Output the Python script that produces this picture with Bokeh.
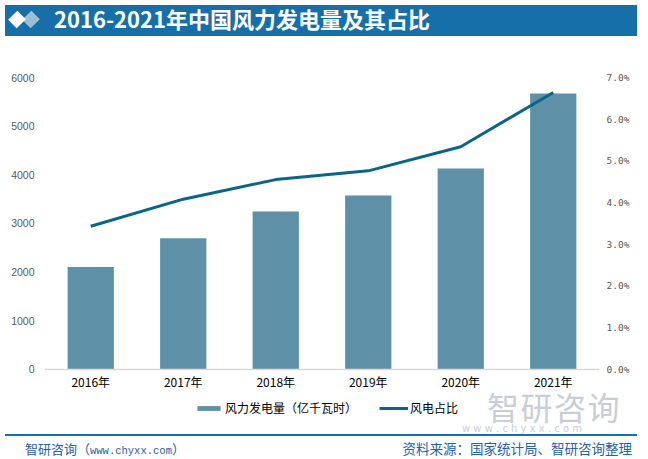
from bokeh.plotting import figure
from bokeh.models import (Range1d, LinearAxis, FixedTicker, PrintfTickFormatter,
                          Legend, LegendItem, ColumnDataSource, Div)
from bokeh.layouts import column
from bokeh.embed import file_html
from bokeh.resources import INLINE

# ---- data ----
years = ["2016年", "2017年", "2018年", "2019年", "2020年", "2021年"]
wind_power = [2100, 2695, 3245, 3575, 4130, 5670]      # 亿千瓦时
wind_share = [3.43, 4.08, 4.55, 4.76, 5.34, 6.64]      # %
left_ticks = [0, 1000, 2000, 3000, 4000, 5000, 6000]
right_ticks = [0, 1, 2, 3, 4, 5, 6, 7]
left_max, right_max = 6000, 7

title_text = "2016-2021年中国风力发电量及其占比"
bar_label = "风力发电量（亿千瓦时）"
line_label = "风电占比"
footer_left_cjk = "智研咨询"
footer_left_url = "www.chyxx.com"
footer_right = "资料来源：国家统计局、智研咨询整理"
watermark = "智研咨询"
watermark_url = "w w w . c h y x x . c o m"

# ---- layout constants (pixels) ----
W = 632
TITLE_H = 31
FIG_H = 380
FOOT_H = 32
FRAME_TOP = 36          # inside the figure canvas
ZERO_Y = 327.7          # where value 0 sits in the figure canvas
CJK = "Noto Sans CJK SC"

# the frame reaches down to the bottom of the figure so the legend row fits inside it
below = (FIG_H - ZERO_Y) / (ZERO_Y - FRAME_TOP)
y_left = Range1d(-below * left_max, left_max)
y_right = Range1d(-below * right_max, right_max)

# ---- title bar ----
title_html = f"""
<div style="position:relative;width:{W}px;height:{TITLE_H}px;background:#166fa8;overflow:hidden;">
  <div style="position:absolute;left:20px;top:8px;width:12px;height:13px;background:#9dbfd6;transform:rotate(45deg);"></div>
  <div style="position:absolute;left:5.5px;top:8px;width:12px;height:13px;background:#ffffff;transform:rotate(45deg);"></div>
  <div style="position:absolute;left:49px;top:0px;line-height:27px;white-space:nowrap;
              font-family:'{CJK}';font-size:22px;font-weight:bold;color:#ffffff;">{title_text}</div>
</div>"""
title_div = Div(text=title_html, width=W, height=TITLE_H)

# ---- main figure ----
p = figure(width=W, height=FIG_H, x_range=years, y_range=y_left,
           x_axis_location="above",
           output_backend="svg", toolbar_location=None,
           min_border_left=44, min_border_right=30, min_border_top=FRAME_TOP, min_border_bottom=0)
p.extra_y_ranges = {"pct": y_right}
p.outline_line_color = None
p.xgrid.grid_line_color = None
p.ygrid.grid_line_color = None
p.background_fill_color = "white"
p.border_fill_color = "white"

src = ColumnDataSource(dict(year=years, power=wind_power, share=wind_share))
bars = p.vbar(x="year", top="power", bottom=0, width=0.5, source=src,
              fill_color="#5e90a8", line_color=None)
line = p.line(x="year", y="share", y_range_name="pct", source=src,
              line_color="#0b6586", line_width=3)

# category axis drawn at value 0, labels pushed below the line
xa = p.xaxis[0]
xa.fixed_location = 0
xa.axis_line_color = "#d9d9d9"
xa.axis_line_width = 1.5
xa.major_tick_line_color = None
xa.minor_tick_line_color = None
xa.major_tick_out = 0
xa.major_tick_in = 0
xa.major_label_text_font = CJK
xa.major_label_text_font_size = "12px"
xa.major_label_text_color = "#000000"
xa.major_label_standoff = -21

ya = p.yaxis[0]
ya.ticker = FixedTicker(ticks=left_ticks)
ya.axis_line_color = None
ya.major_tick_line_color = None
ya.minor_tick_line_color = None
ya.major_tick_out = 0
ya.major_tick_in = 0
ya.major_label_text_font = "Liberation Sans"
ya.major_label_text_font_size = "10.5px"
ya.major_label_text_color = "#595959"
ya.major_label_standoff = 10

ra = LinearAxis(y_range_name="pct", ticker=FixedTicker(ticks=right_ticks),
                formatter=PrintfTickFormatter(format="%.1f%%"))
ra.axis_line_color = None
ra.major_tick_line_color = None
ra.minor_tick_line_color = None
ra.major_tick_out = 0
ra.major_tick_in = 0
ra.major_label_text_font = "DejaVu Sans Mono"
ra.major_label_text_font_size = "9.5px"
ra.major_label_text_color = "#595959"
ra.major_label_standoff = 7
p.add_layout(ra, "right")

legend = Legend(items=[LegendItem(label=bar_label, renderers=[bars]),
                       LegendItem(label=line_label, renderers=[line])],
                orientation="horizontal", location=(150, 5),
                glyph_width=29, glyph_height=6, label_height=14,
                label_standoff=2, spacing=22, padding=0, margin=0,
                border_line_color=None, background_fill_alpha=0,
                label_text_font=CJK, label_text_font_size="12px",
                label_text_color="#000000")
p.add_layout(legend)

# ---- footer ----
footer_html = f"""
<div style="position:relative;width:{W}px;height:{FOOT_H}px;">
  <div style="position:absolute;left:482px;top:-37px;line-height:34px;white-space:nowrap;
              font-family:'{CJK}';font-size:32px;color:#c9ced6;letter-spacing:1.5px;">{watermark}</div>
  <div style="position:absolute;left:457px;top:-2px;line-height:10px;white-space:nowrap;
              font-family:'DejaVu Sans';font-size:10px;color:#c9ced6;">{watermark_url}</div>
  <div style="position:absolute;left:0px;top:8px;width:{W}px;height:1.5px;background:#1a6fa6;"></div>
  <div style="position:absolute;left:20px;top:15px;line-height:15px;white-space:nowrap;color:#2461a6;">
    <span style="font-family:'{CJK}';font-size:13px;">{footer_left_cjk}（</span><span
      style="font-family:'Liberation Mono';font-size:10.5px;">{footer_left_url}</span><span
      style="font-family:'{CJK}';font-size:13px;">）</span>
  </div>
  <div style="position:absolute;right:5px;top:15px;line-height:15px;white-space:nowrap;
              font-family:'{CJK}';font-size:13.5px;color:#2461a6;">{footer_right}</div>
</div>"""
footer_div = Div(text=footer_html, width=W, height=FOOT_H)

layout = column(title_div, p, footer_div, spacing=0)
open("out.html", "w").write(file_html(layout, INLINE))
